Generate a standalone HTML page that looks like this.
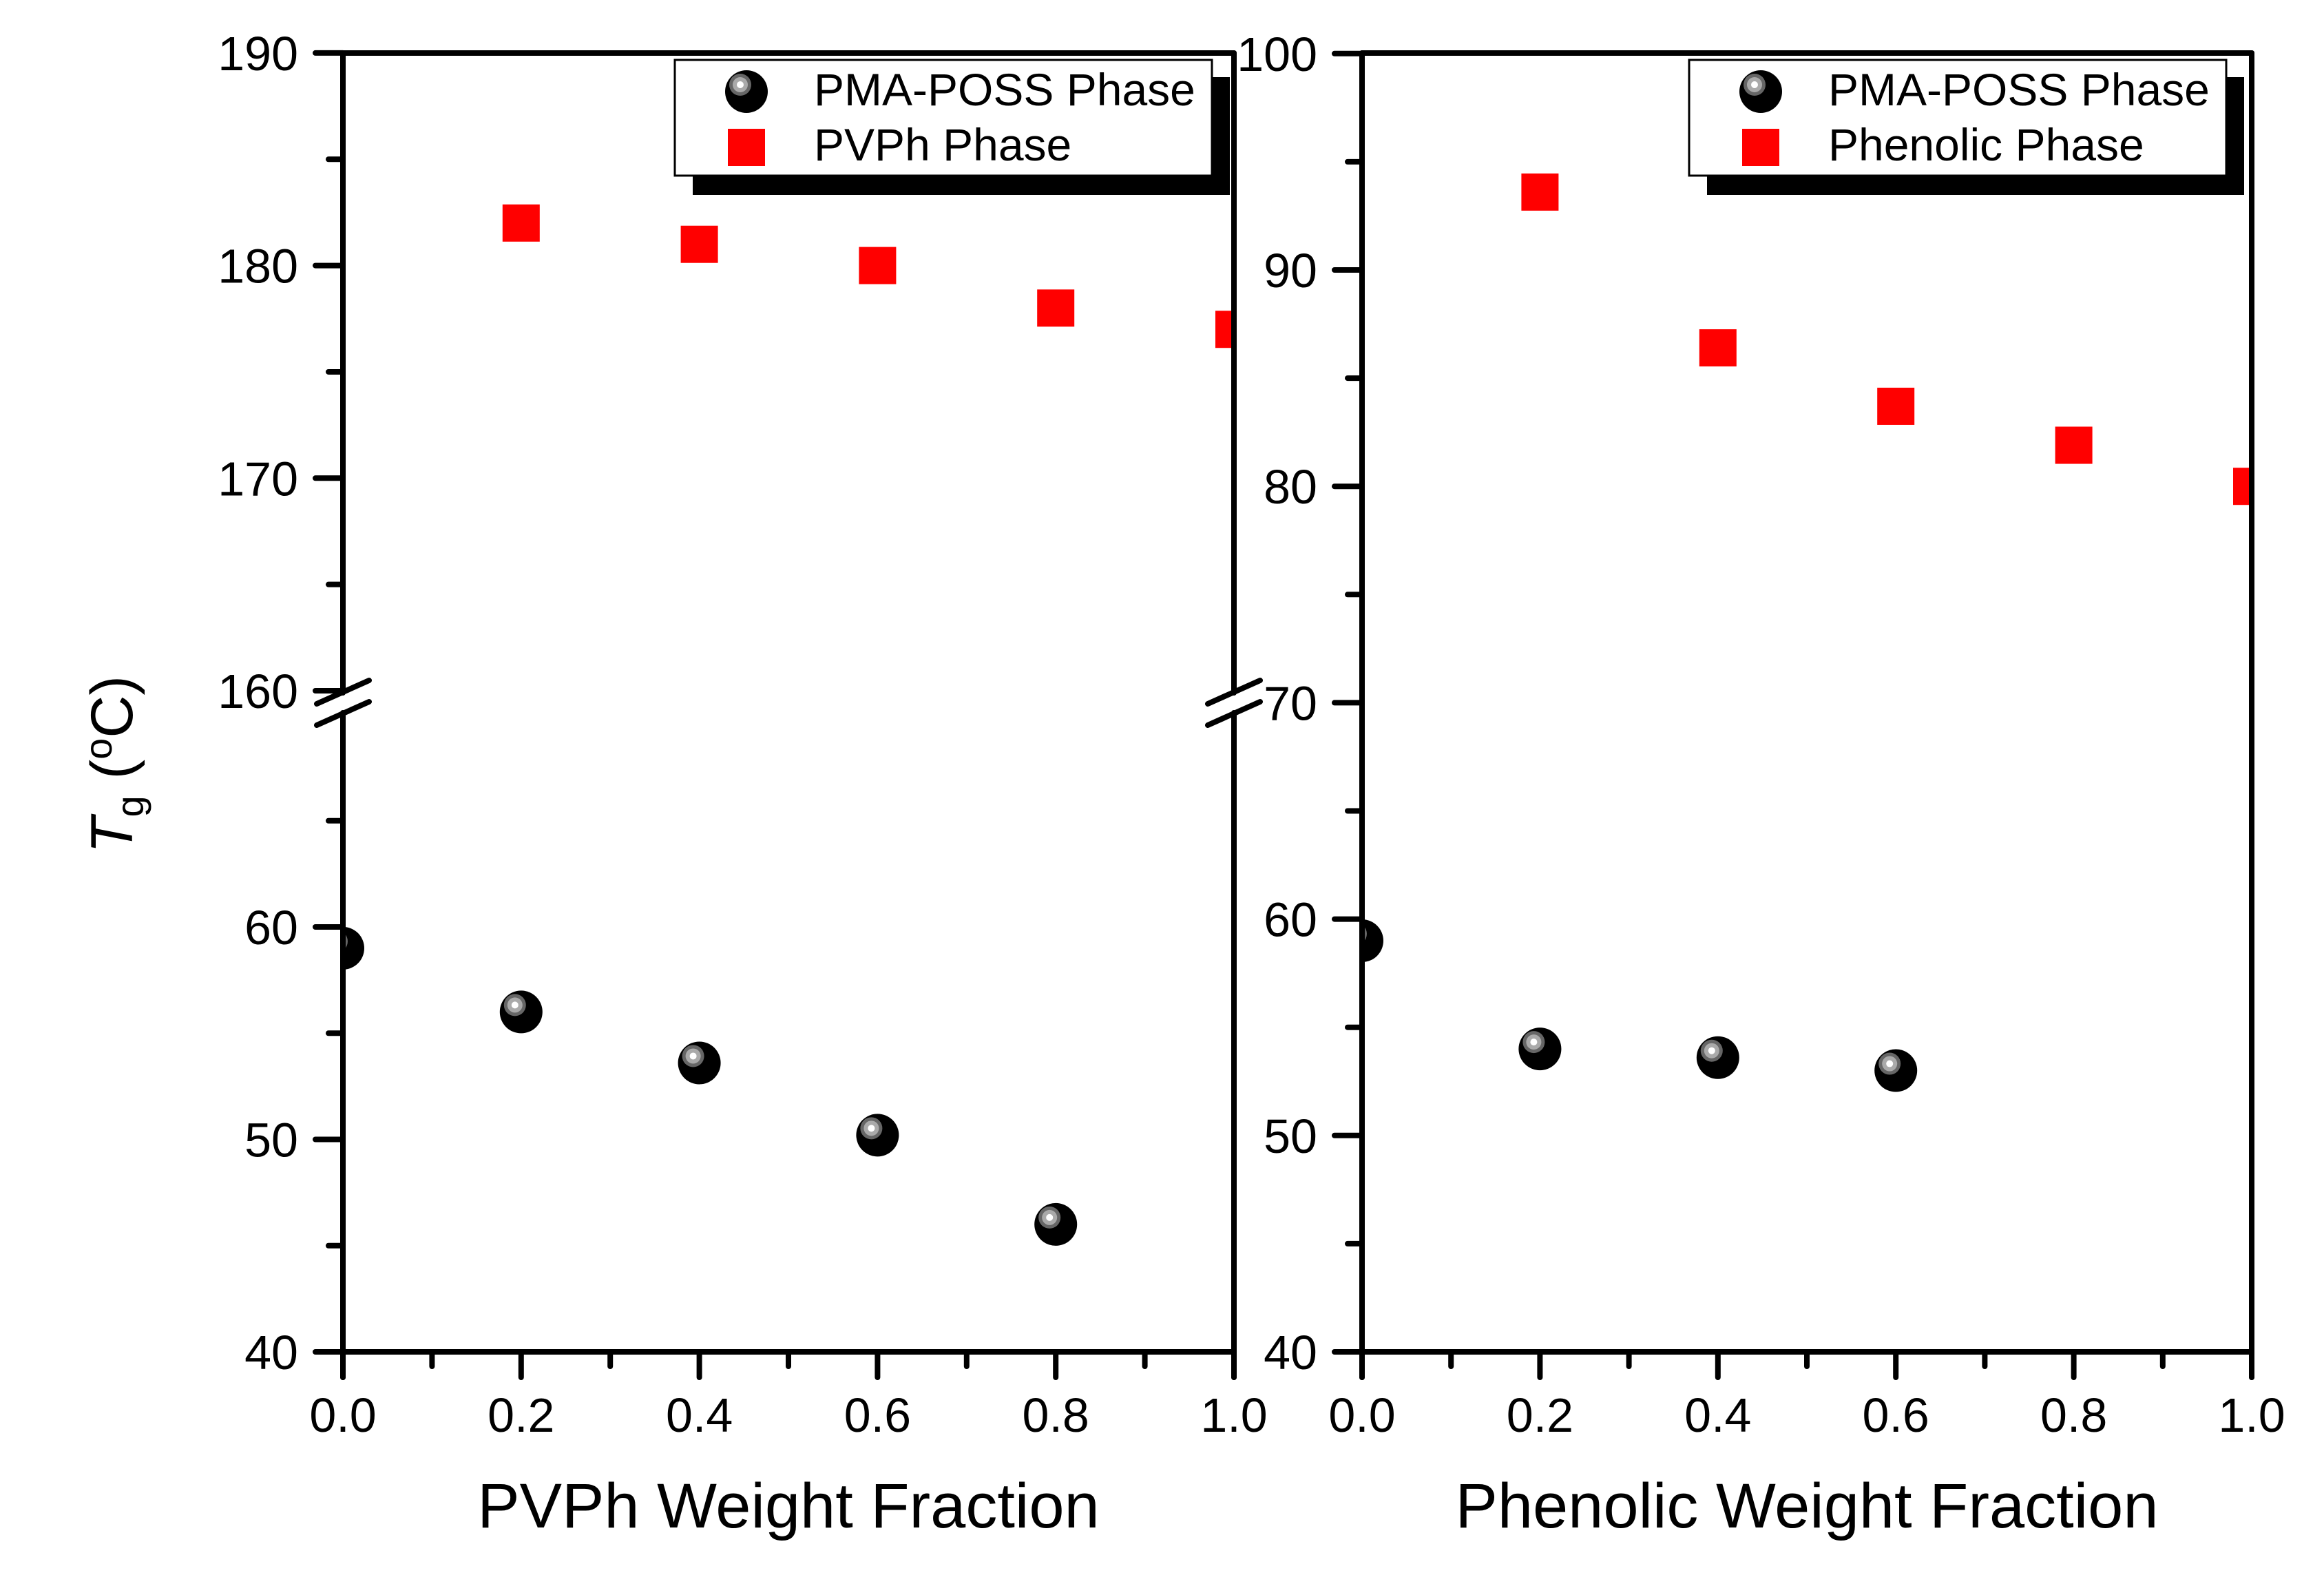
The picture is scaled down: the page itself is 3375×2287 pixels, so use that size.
<!DOCTYPE html>
<html><head><meta charset="utf-8"><style>html,body{margin:0;padding:0;background:#fff}svg{display:block}</style></head>
<body>
<svg id="chart" xmlns="http://www.w3.org/2000/svg" width="3375" height="2287" viewBox="0 0 3375 2287" font-family="'Liberation Sans', Arial, sans-serif">
<defs>
<clipPath id="clipL"><rect x="498" y="77" width="1294" height="1886"/></clipPath>
<clipPath id="clipR"><rect x="1978" y="77" width="1292" height="1886"/></clipPath>
</defs>
<g id="root"></g>
</svg>
<script>
// Left panel data
const xLeftPoss = [0, 0.2, 0.4, 0.6, 0.8];
const yLeftPoss = [59, 56, 53.6, 50.2, 46];
const xLeftPvph = [0.2, 0.4, 0.6, 0.8, 1.0];
const yLeftPvph = [182, 181, 180, 178, 177];
// Right panel data
const xRightPoss = [0, 0.2, 0.4, 0.6];
const yRightPoss = [59, 54, 53.6, 53];
const xRightPhen = [0.2, 0.4, 0.6, 0.8, 1.0];
const yRightPhen = [93.6, 86.4, 83.7, 81.9, 80];
// Tick labels
const xTickLabels = ["0.0","0.2","0.4","0.6","0.8","1.0"];
const yLeftLowerTicks = [40, 50, 60];
const yLeftUpperTicks = [160, 170, 180, 190];
const yRightTicks = [40, 50, 60, 70, 80, 90, 100];

const NS = "http://www.w3.org/2000/svg";
const root = document.getElementById('root');
function mk(tag, attrs, parent){const e=document.createElementNS(NS,tag);for(const k in attrs)e.setAttribute(k,attrs[k]);(parent||root).appendChild(e);return e;}

const TOP=77, BOT=1963;
function xL(v){return 498+v*1294;}
function xR(v){return 1978+v*1292;}
function yL(v){return v>=100 ? 1003-(v-160)*30.87 : 1963-(v-40)*30.85;}
function yR(v){return 1963-(v-40)*31.42;}

function ball(cx, cy, g, name){
  const grp=mk('g',{},g);
  
  
  mk('circle',{cx:cx,cy:cy,r:31,fill:'#000'},grp);
  mk('circle',{cx:cx-9,cy:cy-10,r:16,fill:'#666'},grp);
  mk('circle',{cx:cx-9,cy:cy-10,r:11,fill:'#aaa'},grp);
  mk('circle',{cx:cx-9,cy:cy-10,r:5,fill:'#fff'},grp);
}
function sq(cx, cy, g, name){
  const r=mk('rect',{x:cx-27,y:cy-27,width:54,height:54,fill:'#ff0000'},g);
  
  
}

function panel(opt){
  const {x0,x1,xf,yf,clip,yTicks,minorTicks,breakLeft,breakRight,legendX,labels,title,possX,possY,secX,secY,secName} = opt;
  const g=mk('g',{});
  
  
  // markers
  const mg=mk('g',{'clip-path':'url(#'+clip+')'},g);
  for(let i=0;i<secX.length;i++) sq(xf(secX[i]), yf(secY[i]), mg, secName+'-point');
  for(let i=0;i<possX.length;i++) ball(xf(possX[i]), yf(possY[i]), mg, 'pma-poss-point');
  // legend
  const lg=mk('g',{'clip-path':'url(#'+clip+')'},g);
  
  
  mk('rect',{x:legendX+26,y:112,width:780,height:171,fill:'#000'},lg);
  mk('rect',{x:legendX,y:87,width:780,height:168,fill:'#fff',stroke:'#000','stroke-width':3},lg);
  ball(legendX+104,133,lg,'legend-marker-pma-poss');
  sq(legendX+104,214,lg,'legend-marker-'+secName);
  const t1=mk('text',{x:legendX+202,y:153,'font-size':66},lg); t1.textContent='PMA-POSS Phase';
   
  const t2=mk('text',{x:legendX+202,y:233,'font-size':66},lg); t2.textContent=labels;
   
  // frame
  const st={stroke:'#000','stroke-width':8,'stroke-linecap':'round',fill:'none'};
  mk('path',Object.assign({d:`M${x0} ${TOP} H${x1}`},st),g);
  mk('path',Object.assign({d:`M${x0} ${BOT} H${x1}`},st),g);
  const gap = breakLeft ? [1006,1035] : null;
  if(gap){
    mk('path',Object.assign({d:`M${x0} ${TOP} V${gap[0]} M${x0} ${gap[1]} V${BOT+37}`},st),g);
  } else mk('path',Object.assign({d:`M${x0} ${TOP} V${BOT+37}`},st),g);
  if(breakRight){
    mk('path',Object.assign({d:`M${x1} ${TOP} V${gap[0]} M${x1} ${gap[1]} V${BOT+37}`},st),g);
  } else mk('path',Object.assign({d:`M${x1} ${TOP} V${BOT+37}`},st),g);
  if(breakLeft){
    [x0,x1].forEach(bx=>{
      mk('path',Object.assign({d:`M${bx-38} ${1022} L${bx+38} ${988} M${bx-38} ${1053} L${bx+38} ${1019}`},st),g);
    });
  }
  // x ticks
  for(let i=0;i<=10;i++){
    const x=x0+(x1-x0)*i/10;
    mk('path',Object.assign({d:`M${x} ${BOT} V${BOT+(i%2?21:37)}`},st),g);
  }
  xTickLabels.forEach((s,i)=>{
    const t=mk('text',{x:x0+(x1-x0)*i/5,y:2079,'font-size':70,'text-anchor':'middle'},g);
    t.textContent=s;
     
  });
  // y ticks
  yTicks.forEach(v=>{
    const y=yf(v);
    mk('path',Object.assign({d:`M${x0-40} ${y} H${x0}`},st),g);
    const t=mk('text',{x:x0-65,y:y+25,'font-size':70,'text-anchor':'end'},g);
    t.textContent=v;
     
  });
  minorTicks.forEach(v=>{
    const y=yf(v);
    mk('path',Object.assign({d:`M${x0-21} ${y} H${x0}`},st),g);
  });
  const tt=mk('text',{x:(x0+x1)/2,y:2218,'font-size':92,'text-anchor':'middle'},g);
  tt.textContent=title;
   
}

panel({name:'left-panel',x0:498,x1:1792,xf:xL,yf:yL,clip:'clipL',
  yTicks:yLeftLowerTicks.concat(yLeftUpperTicks),minorTicks:[45,55,65,165,175,185],
  breakLeft:true,breakRight:true,legendX:980,labels:'PVPh Phase',title:'PVPh Weight Fraction',
  possX:xLeftPoss,possY:yLeftPoss,secX:xLeftPvph,secY:yLeftPvph,secName:'pvph'});
panel({name:'right-panel',x0:1978,x1:3270,xf:xR,yf:yR,clip:'clipR',
  yTicks:yRightTicks,minorTicks:[45,55,65,75,85,95],
  breakLeft:false,breakRight:false,legendX:2453,labels:'Phenolic Phase',title:'Phenolic Weight Fraction',
  possX:xRightPoss,possY:yRightPoss,secX:xRightPhen,secY:yRightPhen,secName:'phenolic'});

// y-axis title
const yt=mk('text',{transform:'translate(192,1110) rotate(-90)','font-size':86,'text-anchor':'middle'});


yt.innerHTML='<tspan font-style="italic">T</tspan><tspan font-size="56" dy="16">g</tspan><tspan dy="-16"> (</tspan><tspan font-size="56" dy="-30">o</tspan><tspan dy="30">C)</tspan>';
</script>
</body></html>
